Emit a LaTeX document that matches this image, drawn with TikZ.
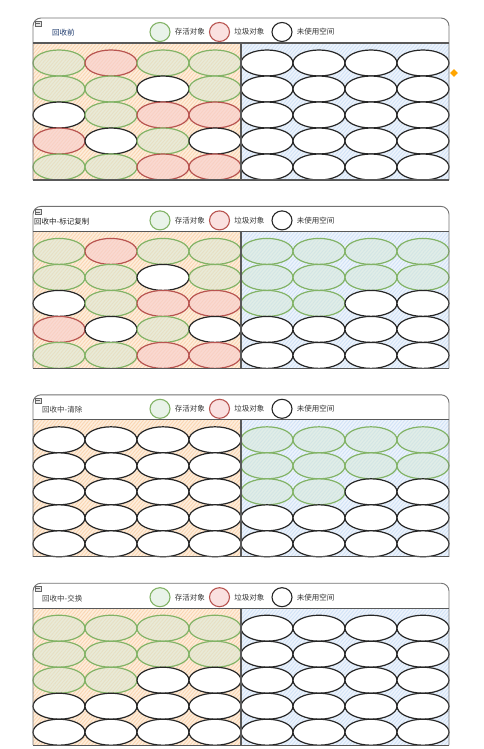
\documentclass[tikz,border=0pt]{standalone}
\usepackage{fontspec}
\setmainfont{Noto Sans CJK SC}
\usetikzlibrary{shapes}
\usetikzlibrary{positioning}
\usetikzlibrary{patterns.meta}

\definecolor{oldbg}{HTML}{FEEEDD}
\definecolor{oldhatch}{HTML}{FAD6B2}
\definecolor{newbg}{HTML}{EEF4FC}
\definecolor{newhatch}{HTML}{D2E3F7}
\definecolor{livefill}{HTML}{D5E8D4}
\definecolor{livedraw}{HTML}{82B366}
\definecolor{deadfill}{HTML}{F8CECC}
\definecolor{deaddraw}{HTML}{B85450}
\definecolor{titleA}{HTML}{1F3B6E}
\definecolor{handle}{HTML}{FFA500}

\begin{document}
\begin{tikzpicture}[x=1pt,y=-1pt]
\tikzstyle{obj}=[ellipse, minimum width=52pt, minimum height=26pt, inner sep=0pt, line width=1.2pt]
\tikzstyle{objg}=[obj, draw=livedraw, fill=livefill, fill opacity=0.5]
\tikzstyle{objr}=[obj, draw=deaddraw, fill=deadfill, fill opacity=0.65]
\tikzstyle{objw}=[obj, draw=black!85, fill=white]
\tikzstyle{legend}=[ellipse, minimum width=20pt, minimum height=19pt, inner sep=0pt, line width=1.1pt]
\tikzstyle{caption}=[anchor=west, inner sep=0pt, font=\fontsize{7.5}{9}\selectfont, text=black!80]
\tikzstyle{hatch}=[pattern={Lines[angle=50,distance=2.6pt,line width=0.9pt]}]
\useasboundingbox (0,0) rectangle (484,749);

\foreach \k/\ttl/\tx/\tcol/\cells in {
  0/回收前/52/titleA/{g,r,g,g,w,w,w,w, g,g,w,g,w,w,w,w, w,g,r,r,w,w,w,w, r,w,g,w,w,w,w,w, g,g,r,r,w,w,w,w},
  1/回收中-标记复制/34/black!85/{g,r,g,g,g,g,g,g, g,g,w,g,g,g,g,g, w,g,r,r,g,g,w,w, r,w,g,w,w,w,w,w, g,g,r,r,w,w,w,w},
  2/回收中-清除/42/black!75/{w,w,w,w,g,g,g,g, w,w,w,w,g,g,g,g, w,w,w,w,g,g,w,w, w,w,w,w,w,w,w,w, w,w,w,w,w,w,w,w},
  3/回收中-交换/42/black!75/{g,g,g,g,w,w,w,w, g,g,g,g,w,w,w,w, g,g,w,w,w,w,w,w, w,w,w,w,w,w,w,w, w,w,w,w,w,w,w,w}} {
  \pgfmathsetmacro{\ytop}{18+188.4*\k}
  % panel: header and the two halves
  \fill[white, rounded corners=8pt] (33,\ytop) rectangle (449,\ytop+30);
  \fill[oldbg] (33,\ytop+25) rectangle (241,\ytop+162);
  \fill[hatch, pattern color=oldhatch] (33,\ytop+25) rectangle (241,\ytop+162);
  \fill[newbg] (241,\ytop+25) rectangle (449,\ytop+162);
  \fill[hatch, pattern color=newhatch] (241,\ytop+25) rectangle (449,\ytop+162);
  % objects
  \foreach \kind [count=\i from 0] in \cells {
    \pgfmathtruncatemacro{\col}{mod(\i,8)}
    \pgfmathtruncatemacro{\row}{div(\i,8)}
    \node[obj\kind] (p\k-\i) at (59+52*\col, \ytop+45+26*\row) {};
  }
  \draw[black!55, line width=0.9pt, rounded corners=8pt] (33,\ytop+162) -- (33,\ytop) -- (449,\ytop) -- (449,\ytop+162);
  \draw[black!65, line width=1.1pt] (33,\ytop+162) -- (449,\ytop+162);
  \draw[black!65, line width=1.1pt] (33,\ytop+25) -- (449,\ytop+25);
  \draw[black!65, line width=1.1pt] (241,\ytop+25) -- (241,\ytop+162);
  \draw[black!60, fill=black!10, line width=0.5pt] (35,\ytop+3) rectangle (41,\ytop+8);
  \draw[black!60, line width=0.5pt] (36,\ytop+5.5) -- (40,\ytop+5.5);
  % title and legend
  \node[caption, text=\tcol] (title\k) at (\tx,\ytop+15) {\ttl};
  \node[legend, draw=livedraw, fill=livefill, fill opacity=0.5] (live\k) at (160,\ytop+14) {};
  \node[caption, right=4pt of live\k] (livetxt\k) {存活对象};
  \node[legend, draw=deaddraw, fill=deadfill, fill opacity=0.6, right=4pt of livetxt\k] (dead\k) {};
  \node[caption, right=4pt of dead\k] (deadtxt\k) {垃圾对象};
  \node[legend, draw=black!85, fill=white, right=7pt of deadtxt\k] (free\k) {};
  \node[caption, right=4pt of free\k] (freetxt\k) {未使用空间};
}
\node[diamond, fill=handle, inner sep=0pt, minimum size=8pt] (hdl) at (454,73) {};
\end{tikzpicture}
\end{document}
